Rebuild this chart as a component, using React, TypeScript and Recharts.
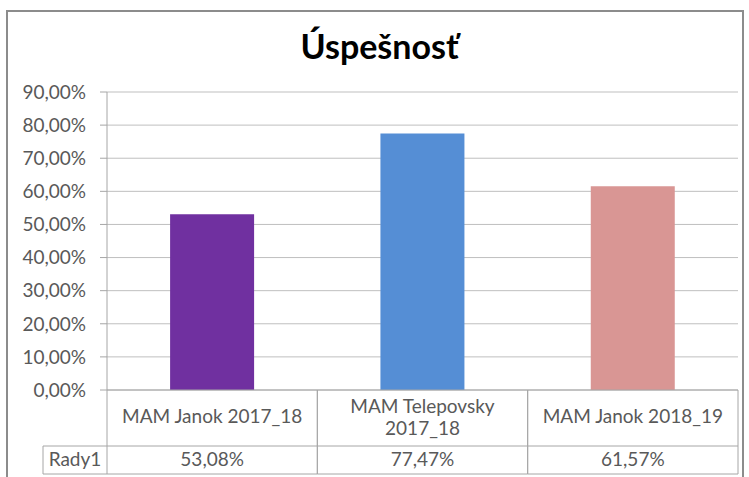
import { BarChart, Bar, XAxis, YAxis, CartesianGrid, Cell } from 'recharts';

const CATEGORIES = ['MAM Janok 2017_18', 'MAM Telepovsky 2017_18', 'MAM Janok 2018_19'];
const CATEGORY_LINES = [['MAM Janok 2017_18'], ['MAM Telepovsky', '2017_18'], ['MAM Janok 2018_19']];
const SERIES_NAME = 'Rady1';
const VALUES = [0.5308, 0.7747, 0.6157];
const BAR_COLORS = ['#7030a0', '#558ed5', '#d99694'];
const Y_TICKS = [0, 0.1, 0.2, 0.3, 0.4, 0.5, 0.6, 0.7, 0.8, 0.9];

const WIDTH = 749;
const HEIGHT = 477;
const PLOT_LEFT = 107;
const PLOT_RIGHT = 738;
const PLOT_BOTTOM = 390;
const ROW_LINE = 446;
const TABLE_BOTTOM = 474;
const LEGEND_LEFT = 43;
const BAND = (PLOT_RIGHT - PLOT_LEFT) / CATEGORIES.length;

const FONT = 'Lato, "Open Sans", sans-serif';
const FONT_SIZE = 19;
const TEXT_COLOR = '#595959';
const LINE_COLOR = '#bfbfbf';
const TABLE_LINE = '#a6a6a6';

const data = CATEGORIES.map((name, i) => ({ name, value: VALUES[i] }));

const fmtPct = (v: number) => (v * 100).toFixed(2).replace('.', ',') + '%';

function TableTick(props: any) {
  const { x, index } = props;
  const left = x - BAND / 2;
  const right = x + BAND / 2;
  const lines = CATEGORY_LINES[index] || [String(props.payload.value)];
  const firstBaseline = lines.length === 1 ? 423 : 413;
  return (
    <g>
      <line x1={left} y1={PLOT_BOTTOM} x2={left} y2={TABLE_BOTTOM} stroke={TABLE_LINE} />
      <line x1={right} y1={PLOT_BOTTOM} x2={right} y2={TABLE_BOTTOM} stroke={TABLE_LINE} />
      <line x1={left} y1={ROW_LINE} x2={right} y2={ROW_LINE} stroke={TABLE_LINE} />
      <line x1={left} y1={TABLE_BOTTOM} x2={right} y2={TABLE_BOTTOM} stroke={TABLE_LINE} />
      {lines.map((t, i) => (
        <text key={i} x={x} y={firstBaseline + i * 22} textAnchor="middle" fill={TEXT_COLOR} fontSize={FONT_SIZE} fontFamily={FONT}>
          {t}
        </text>
      ))}
      <text x={x} y={466} textAnchor="middle" fill={TEXT_COLOR} fontSize={FONT_SIZE} fontFamily={FONT}>
        {fmtPct(VALUES[index])}
      </text>
      {index === 0 && (
        <g>
          <line x1={LEGEND_LEFT} y1={ROW_LINE} x2={left} y2={ROW_LINE} stroke={TABLE_LINE} />
          <line x1={LEGEND_LEFT} y1={TABLE_BOTTOM} x2={left} y2={TABLE_BOTTOM} stroke={TABLE_LINE} />
          <line x1={LEGEND_LEFT} y1={ROW_LINE} x2={LEGEND_LEFT} y2={TABLE_BOTTOM} stroke={TABLE_LINE} />
          <text x={(LEGEND_LEFT + left) / 2} y={466} textAnchor="middle" fill={TEXT_COLOR} fontSize={FONT_SIZE} fontFamily={FONT}>
            {SERIES_NAME}
          </text>
        </g>
      )}
    </g>
  );
}

export default function App() {
  return (
    <div style={{ position: 'absolute', left: 0, top: 0, width: WIDTH, height: HEIGHT, background: '#fff', overflow: 'hidden' }}>
      <div
        style={{
          position: 'absolute',
          left: 6,
          top: 10,
          width: 738,
          height: 480,
          border: '2px solid #8c8c8c',
          boxSizing: 'border-box',
        }}
      />
      <div
        style={{
          position: 'absolute',
          left: 0,
          width: WIDTH,
          top: 25,
          textAlign: 'center',
          fontFamily: FONT,
          fontWeight: 700,
          fontSize: 34,
          color: '#000',
          paddingLeft: 10,
          boxSizing: 'border-box',
        }}
      >
        Úspešnosť
      </div>
      <BarChart
        width={WIDTH}
        height={HEIGHT}
        data={data}
        margin={{ top: 92, right: WIDTH - PLOT_RIGHT, bottom: 0, left: 0 }}
        barCategoryGap="30%"
        style={{ position: 'absolute', left: 0, top: 0 }}
      >
        <CartesianGrid vertical={false} stroke={LINE_COLOR} />
        <XAxis
          dataKey="name"
          height={HEIGHT - PLOT_BOTTOM}
          tickLine={false}
          axisLine={{ stroke: TABLE_LINE }}
          tick={<TableTick />}
          interval={0}
        />
        <YAxis
          width={PLOT_LEFT}
          domain={[0, 0.9]}
          ticks={Y_TICKS}
          tickFormatter={fmtPct}
          tickSize={7}
          tickMargin={14}
          tickLine={{ stroke: TABLE_LINE }}
          axisLine={{ stroke: TABLE_LINE }}
          tick={{ fill: TEXT_COLOR, fontSize: FONT_SIZE, fontFamily: FONT }}
        />
        <Bar dataKey="value" isAnimationActive={false}>
          {data.map((d, i) => (
            <Cell key={d.name} fill={BAR_COLORS[i]} />
          ))}
        </Bar>
      </BarChart>
    </div>
  );
}
